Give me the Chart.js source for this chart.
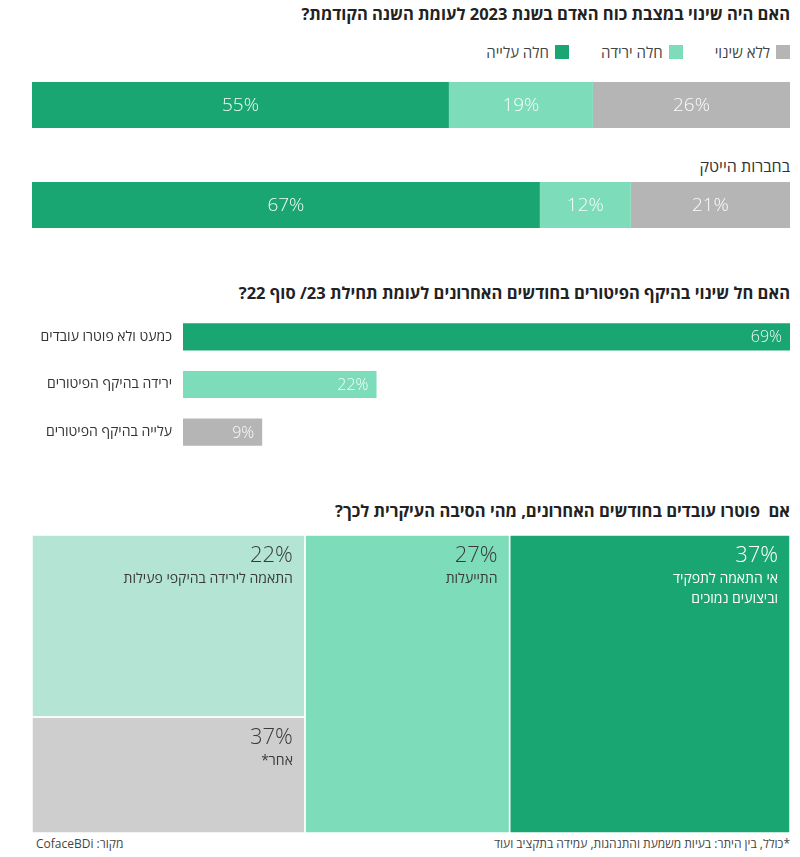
<!DOCTYPE html>
<html lang="he">
<head>
<meta charset="utf-8">
<script src="https://cdn.jsdelivr.net/npm/chart.js@4.4.0/dist/chart.umd.min.js"></script>
<style>
    body {
        margin: 0;
        width: 800px;
        height: 857px;
        position: relative;
        background: #fff;
        font-family: 'Open Sans', 'Liberation Sans', 'DejaVu Sans', sans-serif;
        color: #333;
        overflow: hidden;
    }
    .abs { position: absolute; }
    .title {
        right: 10px;
        font-weight: bold;
        font-size: 16.5px;
        line-height: 20px;
        color: #222;
        direction: rtl;
        white-space: nowrap;
    }
    .legend {
        right: 10px;
        top: 42px;
        direction: rtl;
        display: flex;
        font-size: 15px;
        line-height: 20px;
        color: #444;
    }
    .legend span { display: flex; align-items: center; margin-left: 32px; }
    .legend i { display: inline-block; width: 14px; height: 14px; margin-left: 6px; }
    .sub { right: 10px; top: 156px; font-size: 16px; line-height: 20px; color: #333; direction: rtl; }
    .foot { top: 836px; font-size: 12px; line-height: 16px; color: #444; direction: rtl; white-space: nowrap; }
    canvas { position: absolute; }
</style>
</head>
<body>
<div class="abs title" style="top:4px">האם היה שינוי במצבת כוח האדם בשנת 2023 לעומת השנה הקודמת?</div>
<div class="abs legend" id="legend1"></div>
<div class="abs sub">בחברות הייטק</div>
<canvas id="changeChart" width="758" height="200" style="left:32px; top:55px"></canvas>

<div class="abs title" style="top:283px">האם חל שינוי בהיקף הפיטורים בחודשים האחרונים לעומת תחילת 23/ סוף 22?</div>
<canvas id="layoffChart" width="790" height="143" style="left:0px; top:313px"></canvas>

<div class="abs title" style="top:501px">אם&nbsp; פוטרו עובדים בחודשים האחרונים, מהי הסיבה העיקרית לכך?</div>
<canvas id="reasonChart" width="758" height="298" style="left:32px; top:535px"></canvas>

<div class="abs foot" style="right:10px">*כולל, בין היתר: בעיות משמעת והתנהגות, עמידה בתקציב ועוד</div>
<div class="abs foot" style="left:36px">מקור: CofaceBDi</div>

<script>
// chart 1 - change in workforce
const changeRows = ['כלל החברות', 'בחברות הייטק'];
const roseShare = [55, 67];
const fellShare = [19, 12];
const sameShare = [26, 21];
const seriesNames = ['חלה עלייה', 'חלה ירידה', 'ללא שינוי'];

// chart 2 - layoffs scope
const layoffRows = ['כמעט ולא פוטרו עובדים', 'ירידה בהיקף הפיטורים', 'עלייה בהיקף הפיטורים'];
const layoffShare = [69, 22, 9];

// chart 3 - layoff reasons (area, labels as printed)
const reasonNames = [['אי התאמה לתפקיד', 'וביצועים נמוכים'], ['התייעלות'], ['התאמה לירידה בהיקפי פעילות'], ['אחר*']];
const reasonArea = [37, 27, 22, 14];
const reasonPrinted = ['37%', '27%', '22%', '37%'];
const reasonColumns = [[0], [1], [2, 3]];

const GREEN = '#19a673';
const MINT = '#7ddcb9';
const GRAY = '#b5b5b5';
const FONT = "'Open Sans', 'Liberation Sans', 'DejaVu Sans', sans-serif";

document.addEventListener('DOMContentLoaded', function() {
    buildLegend();
    drawChangeChart();
    drawLayoffChart();
    drawReasonChart();
});

function buildLegend() {
    const colors = [GRAY, MINT, GREEN];
    const names = [seriesNames[2], seriesNames[1], seriesNames[0]];
    document.getElementById('legend1').innerHTML = names
        .map((n, i) => `<span><i style="background:${colors[i]}"></i>${n}</span>`)
        .join('');
}

const valueLabels = {
    id: 'valueLabels',
    afterDatasetsDraw(chart, args, opts) {
        const ctx = chart.ctx;
        ctx.save();
        ctx.font = `300 ${opts.size}px ${FONT}`;
        ctx.fillStyle = 'rgba(255,255,255,0.95)';
        ctx.textBaseline = 'middle';
        chart.data.datasets.forEach((ds, di) => {
            chart.getDatasetMeta(di).data.forEach((bar, i) => {
                const txt = ds.data[i] + '%';
                if (opts.align === 'end') {
                    ctx.textAlign = 'right';
                    ctx.fillText(txt, bar.x - 8, bar.y + 1);
                } else {
                    ctx.textAlign = 'center';
                    ctx.fillText(txt, (bar.x + bar.base) / 2, bar.y + 1);
                }
            });
        });
        ctx.restore();
    }
};

function drawChangeChart() {
    new Chart(document.getElementById('changeChart'), {
        type: 'bar',
        data: {
            labels: changeRows,
            datasets: [
                { label: seriesNames[0], data: roseShare, backgroundColor: GREEN },
                { label: seriesNames[1], data: fellShare, backgroundColor: MINT },
                { label: seriesNames[2], data: sameShare, backgroundColor: GRAY }
            ]
        },
        options: {
            indexAxis: 'y',
            responsive: false,
            animation: false,
            barPercentage: 0.46,
            categoryPercentage: 1,
            layout: { padding: 0 },
            plugins: {
                legend: { display: false },
                tooltip: { enabled: false },
                valueLabels: { size: 19, align: 'center' }
            },
            scales: {
                x: { stacked: true, min: 0, max: 100, display: false },
                y: { stacked: true, display: false }
            }
        },
        plugins: [valueLabels]
    });
}

function drawLayoffChart() {
    new Chart(document.getElementById('layoffChart'), {
        type: 'bar',
        data: {
            labels: layoffRows,
            datasets: [{
                data: layoffShare,
                backgroundColor: [GREEN, MINT, GRAY]
            }]
        },
        options: {
            indexAxis: 'y',
            responsive: false,
            animation: false,
            barPercentage: 0.57,
            categoryPercentage: 1,
            layout: { padding: 0 },
            plugins: {
                legend: { display: false },
                tooltip: { enabled: false },
                valueLabels: { size: 16, align: 'end' }
            },
            scales: {
                x: { min: 0, max: 69, display: false },
                y: {
                    grid: { display: false, drawTicks: false },
                    border: { display: false },
                    ticks: { color: '#333', padding: 11, font: { family: FONT, size: 14 } },
                    afterFit: function(scale) {
                        scale.width = 183;
                        scale.paddingTop = 0;
                        scale.paddingBottom = 0;
                    }
                }
            }
        },
        plugins: [valueLabels]
    });
}

const treemapCells = {
    id: 'treemapCells',
    afterDatasetsDraw(chart) {
        const ctx = chart.ctx;
        const x = chart.scales.x;
        const y = chart.scales.y;
        const fills = [GREEN, MINT, '#b3e4d4', '#cecece'];
        const inks = ['#ffffff', '#3a3a3a', '#3a3a3a', '#3a3a3a'];
        let right = 100;
        ctx.save();
        ctx.direction = 'rtl';
        reasonColumns.forEach(col => {
            const colTotal = col.reduce((s, k) => s + reasonArea[k], 0);
            const left = right - colTotal;
            let top = 100;
            col.forEach(k => {
                const bottom = top - reasonArea[k] / colTotal * 100;
                const px0 = x.getPixelForValue(left);
                const px1 = x.getPixelForValue(right);
                const py0 = y.getPixelForValue(top);
                const py1 = y.getPixelForValue(bottom);
                ctx.fillStyle = fills[k];
                ctx.fillRect(px0, py0, px1 - px0, py1 - py0);
                ctx.strokeStyle = '#ffffff';
                ctx.lineWidth = 1.5;
                ctx.strokeRect(px0, py0, px1 - px0, py1 - py0);

                ctx.fillStyle = inks[k];
                ctx.textAlign = 'right';
                ctx.textBaseline = 'alphabetic';
                ctx.font = `300 22px ${FONT}`;
                ctx.fillText(reasonPrinted[k], px1 - 12, py0 + 27);
                ctx.font = `14px ${FONT}`;
                reasonNames[k].forEach((line, j) => {
                    ctx.fillText(line, px1 - 12, py0 + 48 + j * 20);
                });
                top = bottom;
            });
            right = left;
        });
        ctx.restore();
    }
};

function drawReasonChart() {
    new Chart(document.getElementById('reasonChart'), {
        type: 'scatter',
        data: { datasets: [{ data: [] }] },
        options: {
            responsive: false,
            animation: false,
            layout: { padding: 0 },
            plugins: { legend: { display: false }, tooltip: { enabled: false } },
            scales: {
                x: { min: 0, max: 100, display: false },
                y: { min: 0, max: 100, display: false }
            }
        },
        plugins: [treemapCells]
    });
}
</script>
</body>
</html>
